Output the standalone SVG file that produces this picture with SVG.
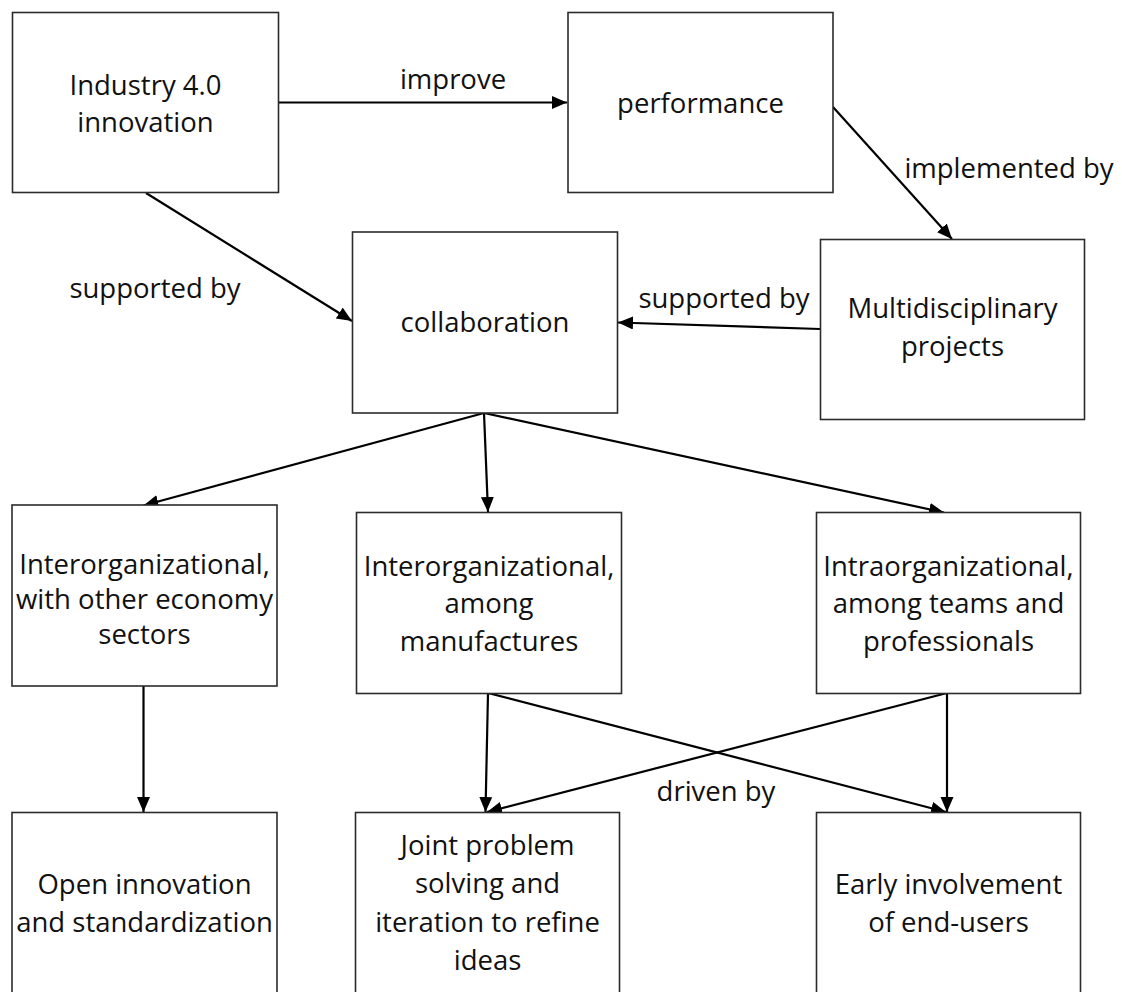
<svg xmlns="http://www.w3.org/2000/svg" width="1122" height="992" viewBox="0 0 1122 992">
<defs>
<style>
.box{fill:#fff;stroke:#2b2b2b;stroke-width:1.6}
.t{font-family:"Open Sans","Noto Sans",sans-serif;font-size:27.5px;fill:#111;text-anchor:middle}
.c{stroke:#000;stroke-width:2.2;fill:none;marker-end:url(#ah)}
</style>
<marker id="ah" markerUnits="userSpaceOnUse" markerWidth="18" markerHeight="16" refX="15" refY="6.5" orient="auto">
<path d="M0,0 L15,6.5 L0,13 z" fill="#000"/>
</marker>
</defs>
<rect width="1122" height="992" fill="#fff"/>
<g id="connectors">
<line class="c" x1="278" y1="102.5" x2="567" y2="102.5"/>
<line class="c" x1="833" y1="107" x2="952" y2="239"/>
<line class="c" x1="146" y1="193" x2="352" y2="321"/>
<line class="c" x1="820" y1="329" x2="618" y2="322.5"/>
<line class="c" x1="484" y1="413" x2="143.5" y2="505.5"/>
<line class="c" x1="484" y1="413" x2="488" y2="512"/>
<line class="c" x1="484" y1="413" x2="944" y2="512.5"/>
<line class="c" x1="143.5" y1="686" x2="143.5" y2="812"/>
<line class="c" x1="488" y1="693" x2="485.5" y2="812"/>
<line class="c" x1="488" y1="693" x2="946" y2="812"/>
<line class="c" x1="947" y1="693" x2="487" y2="812"/>
<line class="c" x1="947" y1="693" x2="947" y2="812"/>
<text class="t" x="453" y="89">improve</text>
<text class="t" x="1009" y="178">implemented by</text>
<text class="t" x="155" y="298">supported by</text>
<text class="t" x="724" y="308">supported by</text>
<text class="t" x="716" y="801">driven by</text>
</g>
<g id="n-industry"><rect class="box" x="12.5" y="12.5" width="266" height="180"/>
<text class="t" x="145.5" y="95">Industry 4.0</text><text class="t" x="145.5" y="132">innovation</text></g>
<g id="n-performance"><rect class="box" x="568" y="12.5" width="265" height="180"/>
<text class="t" x="700.5" y="113">performance</text></g>
<g id="n-collaboration"><rect class="box" x="352.5" y="232" width="265" height="181"/>
<text class="t" x="485" y="332">collaboration</text></g>
<g id="n-multi"><rect class="box" x="820.5" y="239.5" width="264" height="180"/>
<text class="t" x="952.5" y="318">Multidisciplinary</text><text class="t" x="952.5" y="356">projects</text></g>
<g id="n-inter-sectors"><rect class="box" x="12" y="505" width="265" height="181"/>
<text class="t" x="144.5" y="574">Interorganizational,</text><text class="t" x="144.5" y="609">with other economy</text><text class="t" x="144.5" y="644">sectors</text></g>
<g id="n-inter-manuf"><rect class="box" x="356.5" y="512.5" width="265" height="181"/>
<text class="t" x="489" y="576">Interorganizational,</text><text class="t" x="489" y="613">among</text><text class="t" x="489" y="650.5">manufactures</text></g>
<g id="n-intra"><rect class="box" x="816.5" y="512.5" width="264" height="181"/>
<text class="t" x="948.5" y="576">Intraorganizational,</text><text class="t" x="948.5" y="613">among teams and</text><text class="t" x="948.5" y="650.5">professionals</text></g>
<g id="n-open"><rect class="box" x="12" y="812.5" width="265" height="185"/>
<text class="t" x="144.5" y="894">Open innovation</text><text class="t" x="144.5" y="932">and standardization</text></g>
<g id="n-joint"><rect class="box" x="355.5" y="812.5" width="264" height="185"/>
<text class="t" x="487.5" y="855">Joint problem</text><text class="t" x="487.5" y="893">solving and</text><text class="t" x="487.5" y="932">iteration to refine</text><text class="t" x="487.5" y="970">ideas</text></g>
<g id="n-early"><rect class="box" x="816.5" y="812.5" width="264" height="185"/>
<text class="t" x="948.5" y="894">Early involvement</text><text class="t" x="948.5" y="932">of end-users</text></g>
</svg>
